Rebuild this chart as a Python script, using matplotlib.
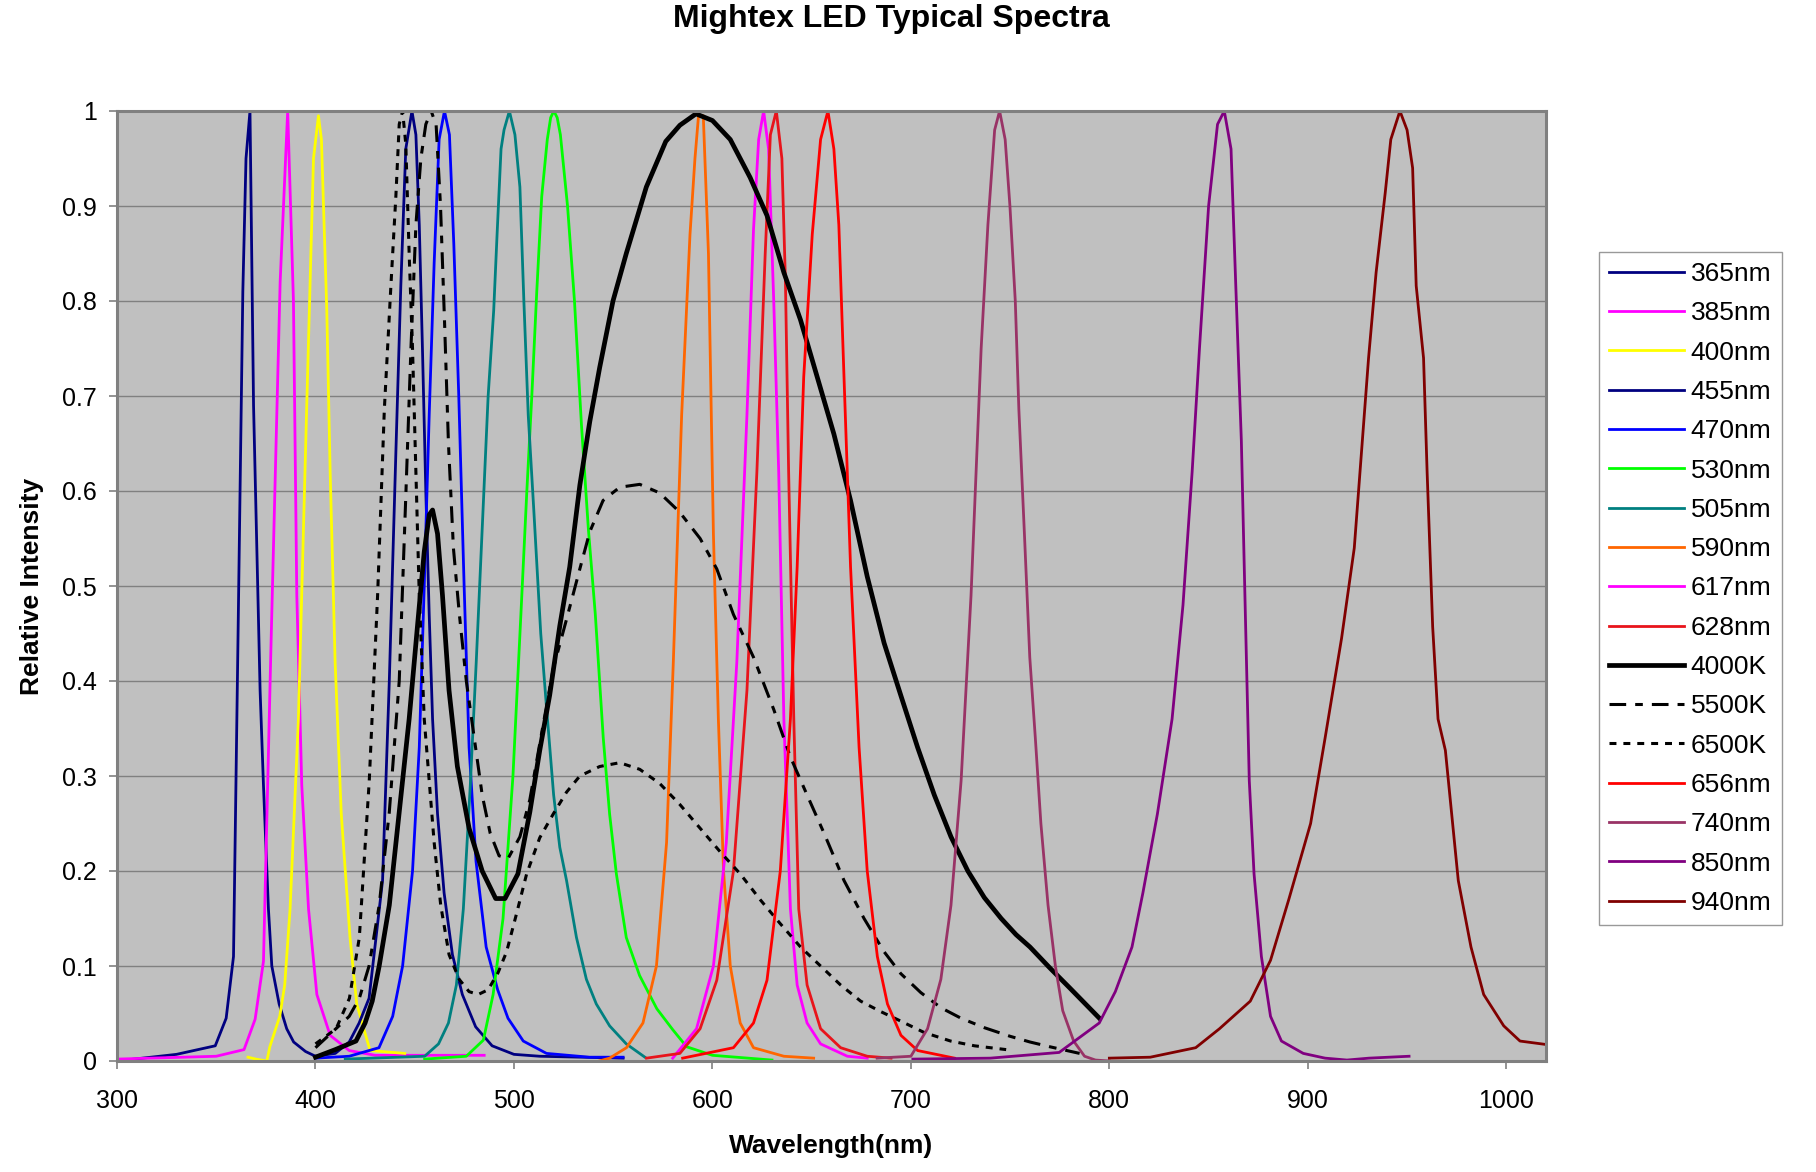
import matplotlib
matplotlib.use("Agg")
import matplotlib.pyplot as plt

plt.rcParams['font.family'] = ['Liberation Sans', 'DejaVu Sans']
plt.rcParams['lines.scale_dashes'] = False

# ---------------- data ----------------
wl_365 = [300, 330, 349.5, 355, 358.7, 361, 363.4, 365, 367, 368.8, 372.1, 373.8, 376.3, 378, 381.7, 385.5, 389, 395, 400]
in_365 = [0.0, 0.007, 0.016, 0.045, 0.11, 0.45, 0.81, 0.95, 1.0, 0.69, 0.39, 0.29, 0.16, 0.1, 0.06, 0.034, 0.02, 0.01, 0.005]

wl_385 = [300, 350, 364, 369.6, 373.8, 377.5, 382.2, 386, 388.9, 390.6, 393.1, 396.5, 400.7, 407.4, 417, 430, 485]
in_385 = [0.002, 0.005, 0.012, 0.044, 0.105, 0.43, 0.82, 1.0, 0.8, 0.49, 0.29, 0.16, 0.07, 0.027, 0.011, 0.006, 0.006]

wl_400 = [366, 370, 375.5, 377, 382, 384.5, 387.2, 391.4, 395.6, 399, 401.5, 403, 405.7, 407.4, 409.9, 413, 417.4, 420.8, 427.5, 445]
in_400 = [0.004, 0.002, 0.0, 0.015, 0.047, 0.08, 0.16, 0.36, 0.69, 0.95, 0.995, 0.97, 0.79, 0.62, 0.42, 0.26, 0.13, 0.06, 0.011, 0.008]

wl_455 = [400, 410, 417, 422, 427, 433.8, 437.2, 440.5, 443, 445.5, 448.6, 450.6, 452.3, 453.9, 455.6, 457.3, 459, 461.5, 464.8, 469, 474, 480.7, 489, 500, 513, 555]
in_455 = [0.005, 0.008, 0.02, 0.04, 0.066, 0.19, 0.4, 0.64, 0.816, 0.96, 1.0, 0.975, 0.88, 0.75, 0.6, 0.47, 0.36, 0.26, 0.177, 0.112, 0.07, 0.036, 0.016, 0.007, 0.005, 0.003]

wl_470 = [400, 417, 432, 438.9, 443.9, 448.9, 452.3, 454.8, 457.3, 459.8, 462.3, 465, 467.5, 469.7, 472.2, 474.9, 477.4, 480.9, 486, 491.8, 497, 504.7, 516.4, 538, 555]
in_470 = [0.003, 0.005, 0.014, 0.047, 0.1, 0.2, 0.33, 0.5, 0.68, 0.84, 0.97, 1.0, 0.975, 0.86, 0.7, 0.5, 0.33, 0.21, 0.12, 0.075, 0.045, 0.021, 0.008, 0.004, 0.004]

wl_530 = [455, 476, 484.6, 489.5, 494.5, 499.5, 503.5, 506.5, 509, 511.5, 514, 516.8, 518.5, 520.1, 521.8, 523.4, 527, 530.5, 534, 537.5, 541, 545, 548.2, 551.6, 556.6, 563.3, 572, 580, 587, 600, 630]
in_530 = [0.002, 0.005, 0.022, 0.07, 0.15, 0.3, 0.47, 0.6, 0.7, 0.81, 0.91, 0.97, 0.993, 1.0, 0.993, 0.975, 0.9, 0.8, 0.67, 0.56, 0.47, 0.34, 0.26, 0.197, 0.13, 0.09, 0.055, 0.033, 0.015, 0.006, 0.001]

wl_505 = [415, 455, 462, 467, 471, 474.5, 478, 481, 484, 487, 489.8, 491.5, 493.5, 495, 497.7, 500.5, 503, 505, 507.2, 510, 513.5, 516.5, 520, 523.1, 526.5, 531.5, 536.5, 541.5, 548.2, 556.6, 566]
in_505 = [0.002, 0.005, 0.018, 0.04, 0.08, 0.16, 0.29, 0.42, 0.56, 0.7, 0.79, 0.87, 0.96, 0.98, 1.0, 0.975, 0.92, 0.8, 0.68, 0.58, 0.45, 0.37, 0.28, 0.225, 0.19, 0.13, 0.086, 0.06, 0.037, 0.018, 0.004]

wl_590 = [543, 548.2, 556.7, 565, 571.8, 576.9, 580.3, 584.5, 588.7, 591.2, 593, 595.4, 598, 600.5, 603, 605.6, 609, 614, 620.7, 636, 651]
in_590 = [0.0, 0.003, 0.014, 0.04, 0.1, 0.23, 0.42, 0.68, 0.87, 0.95, 0.995, 0.995, 0.85, 0.555, 0.36, 0.2, 0.1, 0.04, 0.014, 0.005, 0.003]

wl_617 = [580, 592, 600.5, 607, 612.3, 617.4, 620.7, 623.3, 625.8, 628.3, 630.9, 633.4, 636, 639.3, 642.7, 647.7, 654.5, 668, 678]
in_617 = [0.003, 0.034, 0.1, 0.23, 0.42, 0.68, 0.875, 0.97, 1.0, 0.96, 0.8, 0.62, 0.36, 0.16, 0.08, 0.04, 0.018, 0.005, 0.003]

wl_628 = [566.8, 583.6, 593.8, 602.2, 610.6, 617.4, 622.4, 626.6, 629.2, 632.2, 635, 636.8, 638.4, 641, 643.5, 647.7, 654.5, 664.6, 678, 690]
in_628 = [0.003, 0.008, 0.034, 0.085, 0.2, 0.39, 0.62, 0.85, 0.975, 1.0, 0.95, 0.82, 0.62, 0.36, 0.16, 0.08, 0.034, 0.014, 0.005, 0.003]

wl_4000 = [400, 410, 420.4, 425, 428.6, 432.1, 437.2, 442.2, 447.2, 451.4, 454.8, 457.3, 459, 461.5, 464, 467.3, 471.5, 477.4, 484, 490.8, 495.5, 502, 508, 513, 518, 523.1, 528.1, 533.2, 538.2, 543.2, 549.9, 556.6, 566.7, 576.5, 583.6, 591.7, 600, 609, 619, 627.5, 636, 644.4, 652.8, 661.2, 669.6, 678, 686.5, 694.9, 703.4, 711.8, 720.2, 728.7, 737, 745.5, 753, 760, 770, 780, 795]
in_4000 = [0.004, 0.012, 0.021, 0.04, 0.063, 0.1, 0.164, 0.262, 0.36, 0.458, 0.536, 0.575, 0.58, 0.555, 0.49, 0.39, 0.31, 0.245, 0.2, 0.171, 0.171, 0.197, 0.262, 0.327, 0.385, 0.458, 0.52, 0.606, 0.673, 0.73, 0.8, 0.85, 0.92, 0.968, 0.985, 0.997, 0.99, 0.97, 0.93, 0.89, 0.83, 0.78, 0.72, 0.66, 0.59, 0.51, 0.44, 0.385, 0.33, 0.28, 0.236, 0.2, 0.172, 0.15, 0.133, 0.12, 0.098, 0.077, 0.045]

wl_5500 = [400, 417, 422.1, 427, 432.1, 437.2, 442.2, 445.6, 448.1, 450.6, 453.1, 455.6, 458.3, 460.8, 463, 465, 467, 469.5, 472.5, 476, 480, 484, 488, 492.5, 497, 503, 508, 513, 519.8, 526.5, 533.2, 538.2, 544.9, 553.3, 563.4, 573.4, 583.4, 593.8, 602.2, 610.6, 620.7, 630.9, 639.3, 647.7, 656.2, 666.3, 676.4, 686.5, 694.9, 705, 715.2, 725.3, 737.1, 750, 760, 770, 785]
in_5500 = [0.014, 0.047, 0.066, 0.1, 0.164, 0.262, 0.4, 0.6, 0.75, 0.88, 0.95, 0.986, 1.0, 0.985, 0.9, 0.78, 0.65, 0.54, 0.47, 0.4, 0.34, 0.28, 0.24, 0.216, 0.213, 0.236, 0.275, 0.334, 0.413, 0.465, 0.518, 0.557, 0.59, 0.604, 0.607, 0.598, 0.578, 0.55, 0.518, 0.47, 0.425, 0.37, 0.32, 0.28, 0.24, 0.19, 0.15, 0.115, 0.092, 0.072, 0.056, 0.045, 0.035, 0.026, 0.02, 0.015, 0.008]

wl_6500 = [400, 410.4, 417.1, 422.1, 427.1, 431.3, 434.7, 438, 440.5, 442.2, 443.9, 445.5, 447.2, 448.9, 450.6, 452.3, 454.8, 457.3, 459.8, 463.1, 467.3, 472.4, 477.4, 482, 487, 492, 496.3, 501.3, 506.4, 513, 519.8, 526.5, 533.2, 543.2, 553.3, 563.4, 573.5, 583.6, 593.8, 604, 614, 624, 634, 644.4, 654.5, 664.6, 674.7, 684.8, 694.9, 706.7, 720, 732, 748]
in_6500 = [0.018, 0.034, 0.066, 0.13, 0.295, 0.49, 0.686, 0.816, 0.91, 0.986, 1.0, 0.965, 0.85, 0.75, 0.62, 0.49, 0.36, 0.295, 0.23, 0.164, 0.112, 0.086, 0.073, 0.07, 0.075, 0.093, 0.115, 0.155, 0.197, 0.235, 0.26, 0.283, 0.3, 0.31, 0.314, 0.307, 0.292, 0.27, 0.245, 0.22, 0.197, 0.17, 0.145, 0.12, 0.1, 0.08, 0.063, 0.052, 0.042, 0.03, 0.021, 0.016, 0.012]

wl_656 = [585, 610.6, 620.7, 627.5, 634.2, 639.3, 642.7, 646, 650.3, 654.5, 658.2, 661.2, 663.7, 666.3, 669.6, 673.9, 678, 683.1, 688.2, 695, 703.4, 722]
in_656 = [0.003, 0.014, 0.04, 0.085, 0.2, 0.36, 0.52, 0.72, 0.87, 0.97, 1.0, 0.96, 0.88, 0.72, 0.52, 0.33, 0.2, 0.11, 0.06, 0.027, 0.011, 0.003]

wl_740 = [683, 700, 708.4, 715.1, 720.2, 725.3, 730.3, 735.4, 738.8, 742.2, 744.7, 747.5, 749.9, 752.6, 754.4, 757.2, 759.9, 762.7, 765.5, 769.1, 772.8, 776.5, 782, 787.5, 793, 800]
in_740 = [0.003, 0.005, 0.034, 0.086, 0.164, 0.295, 0.49, 0.75, 0.88, 0.98, 1.0, 0.97, 0.9, 0.8, 0.686, 0.555, 0.425, 0.34, 0.25, 0.164, 0.1, 0.053, 0.021, 0.005, 0.001, 0.0]

wl_850 = [701, 740, 774.7, 794.9, 803, 811.4, 816.9, 824.2, 831.6, 837.1, 841.7, 845.4, 850, 854.5, 857.9, 861.3, 863.7, 866.5, 868.3, 870.5, 872.9, 876.6, 881.2, 886.7, 897.7, 908.7, 919.7, 930.8, 951]
in_850 = [0.002, 0.003, 0.009, 0.04, 0.073, 0.12, 0.177, 0.26, 0.36, 0.48, 0.62, 0.75, 0.9, 0.986, 1.0, 0.96, 0.816, 0.653, 0.49, 0.295, 0.197, 0.11, 0.047, 0.021, 0.008, 0.003, 0.001, 0.003, 0.005]

wl_940 = [800, 820.6, 843.5, 855.5, 871, 881.2, 890.4, 901.4, 908.7, 917, 923.4, 927, 930.6, 934.4, 939, 941.8, 946.4, 950, 952.8, 954.6, 958.3, 960.1, 962.9, 965.6, 969.3, 973.9, 975.8, 982.2, 988.6, 998.7, 1006.9, 1025]
in_940 = [0.003, 0.004, 0.014, 0.034, 0.063, 0.106, 0.17, 0.25, 0.34, 0.445, 0.54, 0.64, 0.74, 0.83, 0.914, 0.97, 1.0, 0.98, 0.94, 0.816, 0.74, 0.62, 0.457, 0.36, 0.327, 0.23, 0.19, 0.12, 0.07, 0.037, 0.021, 0.016]

labels = ['365nm', '385nm', '400nm', '455nm', '470nm', '530nm', '505nm', '590nm',
          '617nm', '628nm', '4000K', '5500K', '6500K', '656nm', '740nm', '850nm', '940nm']
series_x = [wl_365, wl_385, wl_400, wl_455, wl_470, wl_530, wl_505, wl_590,
            wl_617, wl_628, wl_4000, wl_5500, wl_6500, wl_656, wl_740, wl_850, wl_940]
series_y = [in_365, in_385, in_400, in_455, in_470, in_530, in_505, in_590,
            in_617, in_628, in_4000, in_5500, in_6500, in_656, in_740, in_850, in_940]
colors = ['#000080', '#ff00ff', '#ffff00', '#000080', '#0000ff', '#00ff00', '#008080', '#ff6600',
          '#ff00ff', '#e8141b', '#000000', '#000000', '#000000', '#ff0000', '#993366', '#800080', '#800000']

xticks = [300, 400, 500, 600, 700, 800, 900, 1000]
yticks = [0, 0.1, 0.2, 0.3, 0.4, 0.5, 0.6, 0.7, 0.8, 0.9, 1]
ytick_labels = ['0', '0.1', '0.2', '0.3', '0.4', '0.5', '0.6', '0.7', '0.8', '0.9', '1']

# ---------------- figure ----------------
W, H = 1816, 1172
fig = plt.figure(figsize=(W / 100, H / 100), dpi=100)
L, R, T, B = 117, 1546, 111, 1061
ax = fig.add_axes([L / W, 1 - B / H, (R - L) / W, (B - T) / H])
ax.set_facecolor('#c0c0c0')

for xs, ys, lab, c in zip(series_x, series_y, labels, colors):
    if lab == '4000K':
        ax.plot(xs, ys, color=c, lw=3.4, label=lab)
    elif lab == '5500K':
        ax.plot(xs, ys, color=c, lw=2.2, linestyle=(0, (12, 6.5, 5.5, 6.5)), label=lab)
    elif lab == '6500K':
        ax.plot(xs, ys, color=c, lw=2.2, linestyle=(0, (5.0, 5.0)), label=lab)
    else:
        ax.plot(xs, ys, color=c, lw=2.0, label=lab)

ax.set_xlim(300, 1020)
ax.set_ylim(0, 1)
ax.set_xticks(xticks)
ax.set_yticks(yticks)
ax.set_yticklabels(ytick_labels)
ax.yaxis.grid(True, color='#808080', lw=1.0)
ax.set_axisbelow(True)
for s in ax.spines.values():
    s.set_color('#808080')
    s.set_linewidth(2.2)
ax.tick_params(axis='x', direction='out', length=6, width=1.2, color='#808080',
               labelsize=18, pad=14)
ax.tick_params(axis='y', direction='out', length=5.5, width=1.2, color='#808080',
               labelsize=18, pad=9)

fig.text(891 / W, 1 - 27.5 / H, 'Mightex LED Typical Spectra', ha='center', va='baseline',
         fontsize=23, fontweight='bold')
fig.text((L + R) / 2 / W, 1 - 1146 / H, 'Wavelength(nm)', ha='center', va='center',
         fontsize=19, fontweight='bold')
fig.text(32 / W, 1 - (T + B) / 2 / H, 'Relative Intensity', ha='center', va='center',
         rotation=90, fontsize=19, fontweight='bold')

leg = ax.legend(loc='upper left', bbox_to_anchor=(1599 / W, 1 - 252 / H),
                bbox_transform=fig.transFigure, fontsize=19, frameon=True,
                fancybox=False, shadow=False, borderaxespad=0, borderpad=0.38,
                handlelength=2.85, handletextpad=0.25, labelspacing=0.58)
leg.get_frame().set_edgecolor('#808080')
leg.get_frame().set_linewidth(1.0)

fig.savefig('out.png', dpi=100)
